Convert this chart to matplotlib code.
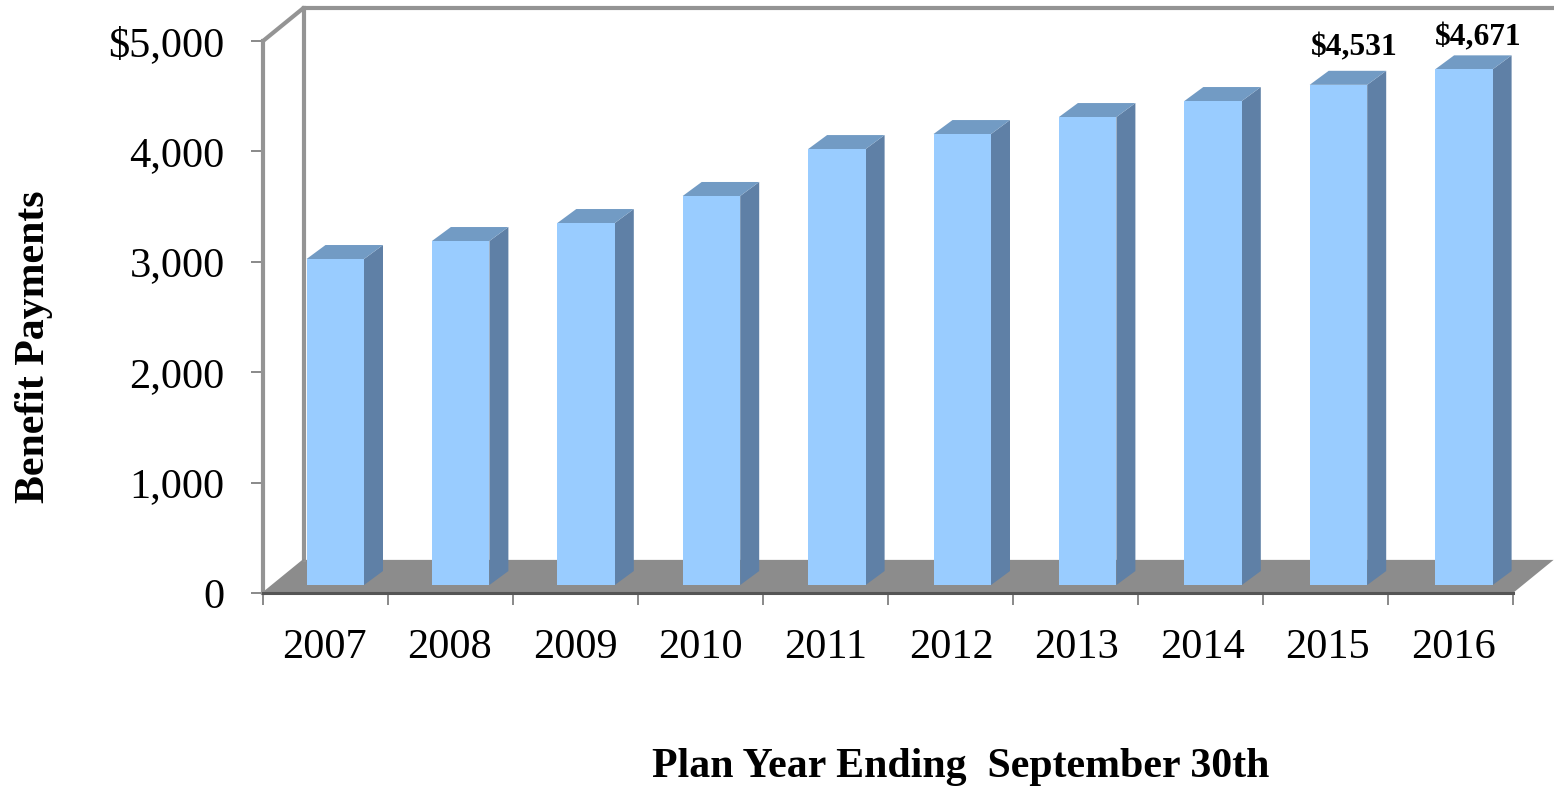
import matplotlib

matplotlib.use("Agg")
import matplotlib.pyplot as plt
from matplotlib.patches import Polygon

plt.rcParams["font.family"] = ["Liberation Serif", "DejaVu Serif"]

years = ["2007", "2008", "2009", "2010", "2011", "2012", "2013", "2014", "2015", "2016"]
payments = [2953, 3116, 3279, 3524, 3949, 4085, 4239, 4384, 4531, 4671]
y_ticks = [0, 1000, 2000, 3000, 4000, 5000]
y_labels = ["0", "1,000", "2,000", "3,000", "4,000", "$5,000"]
labelled = {"2015": "$4,531", "2016": "$4,671"}
label_offset = {"2015": (0.13, 8), "2016": (0.115, 3)}  # x in categories, y in pixels

# Fake 3D depth, in data units (1 category = 125 px, 1000 = 110 px)
wall_dx, wall_dy = 0.325, 300
bar_dx, bar_dy = 0.152, 127
bar_shift, bar_step, bar_lift, bar_width = 0.078, 1.0032, 72, 0.46

front = "#99ccff"
top = "#729bc4"
side = "#5f80a6"
floor = "#8c8c8c"
wall = "#949494"

fig = plt.figure(figsize=(15.54, 7.87), dpi=100)
ax = fig.add_axes([263 / 1554, 1 - 593 / 787, 1250 / 1554, 552 / 787])
ax.set_xlim(-0.5, 9.5)
ax.set_ylim(0, 5000)

# Floor and back walls
ax.add_patch(Polygon(
    [(-0.5, 0), (9.5, 0), (9.5 + wall_dx, wall_dy), (-0.5 + wall_dx, wall_dy)],
    facecolor=floor, edgecolor="none", clip_on=False, zorder=1,
))
ax.plot([-0.5, -0.5 + wall_dx], [5000, 5000 + wall_dy],
        color=wall, lw=3, clip_on=False, zorder=1, solid_capstyle="round")
ax.plot([-0.5 + wall_dx, -0.5 + wall_dx], [wall_dy, 5000 + wall_dy],
        color=wall, lw=3, clip_on=False, zorder=1)
ax.plot([-0.5 + wall_dx, 9.5 + wall_dx + 0.02], [5000 + wall_dy, 5000 + wall_dy],
        color=wall, lw=3, clip_on=False, zorder=1)
ax.plot([-0.5, -0.5 + wall_dx], [0, wall_dy], color="#8c8c8c", lw=1.2, clip_on=False, zorder=1)

# Bars: front face from the axes, top and side drawn behind it
for i, v in enumerate(payments):
    x = i * bar_step + bar_shift
    left = x - bar_width / 2
    right = x + bar_width / 2
    y0 = bar_lift
    y1 = bar_lift + v
    z = 3 + i
    ax.add_patch(Polygon(
        [(right, y0), (right + bar_dx, y0 + bar_dy), (right + bar_dx, y1 + bar_dy), (right, y1)],
        facecolor=side, edgecolor="none", clip_on=False, zorder=z,
    ))
    ax.add_patch(Polygon(
        [(left, y1), (right, y1), (right + bar_dx, y1 + bar_dy), (left + bar_dx, y1 + bar_dy)],
        facecolor=top, edgecolor="none", clip_on=False, zorder=z,
    ))
    ax.bar(x, v, width=bar_width, bottom=bar_lift, color=front, zorder=z + 0.5, clip_on=False)
    if years[i] in labelled:
        off_x, off_y = label_offset[years[i]]
        ax.annotate(labelled[years[i]], (x + off_x, y1 + bar_dy), xytext=(0, off_y),
                    textcoords="offset pixels", ha="center", va="bottom",
                    fontsize=22.7, fontweight="bold", annotation_clip=False, zorder=20)

# Axes
for name in ["top", "right"]:
    ax.spines[name].set_visible(False)
ax.spines["left"].set_color(wall)
ax.spines["left"].set_linewidth(3)
ax.spines["bottom"].set_color("#555555")
ax.spines["bottom"].set_linewidth(2.2)
ax.spines["left"].set_zorder(2)
ax.spines["bottom"].set_zorder(2)

ax.set_yticks(y_ticks, y_labels)
ax.tick_params(axis="y", length=8.6, width=1.3, color="#808080", labelsize=30.5, pad=19)
ax.set_xticks([i - 0.5 for i in range(len(years) + 1)], [""] * (len(years) + 1))
ax.tick_params(axis="x", length=8.6, width=1.3, color="#808080")
ax.set_xticks([i * bar_step - 0.008 for i in range(len(years))], years, minor=True)
ax.tick_params(axis="x", which="minor", length=0, labelsize=30.5, pad=25.5)

fig.text(34 / 1554, 1 - 347 / 787, "Benefit Payments", rotation=90, ha="center", va="center",
         fontsize=30.2, fontweight="bold")
fig.text(961 / 1554, 1 - 767 / 787, "Plan Year Ending  September 30th", ha="center", va="center",
         fontsize=30.2, fontweight="bold")

fig.savefig("out.png", dpi=100)
